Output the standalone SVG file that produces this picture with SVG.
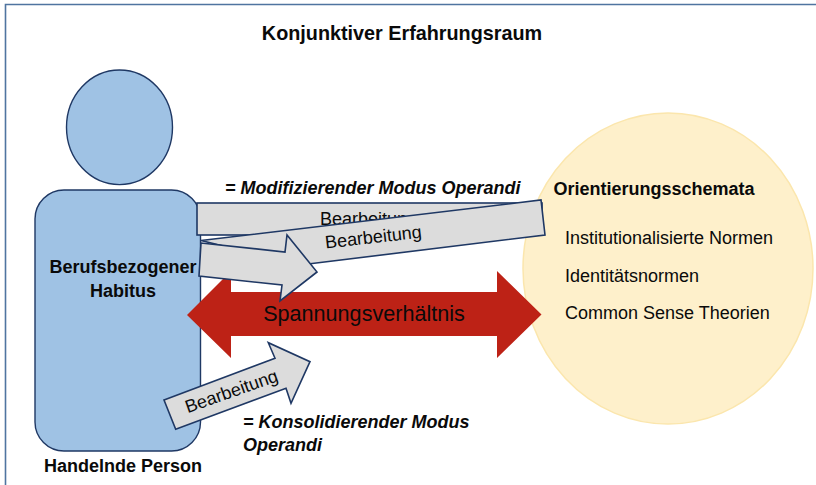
<svg xmlns="http://www.w3.org/2000/svg" width="816" height="485" viewBox="0 0 816 485">
<style>
text{font-family:"Liberation Sans",Arial,sans-serif;fill:#0a0a0a}
.b{font-weight:bold;font-size:18px}
.bi{font-weight:bold;font-style:italic;font-size:18px}
.n{font-size:18px}
.g{fill:#dcdcdc;stroke:#1f3864;stroke-width:1.6;stroke-linejoin:miter}
</style>
<rect width="816" height="485" fill="#fff"/>
<path d="M5.500 485V4.500H816" fill="none" stroke="#4f74a0" stroke-width="1.600"/>
<text class="b" x="402" y="40" text-anchor="middle" style="font-size:19.800px">Konjunktiver Erfahrungsraum</text>
<g id="person-head"><ellipse cx="119.500" cy="127.300" rx="53" ry="57.300" fill="#9fc2e4" stroke="#1f3864" stroke-width="1.400"/></g>
<g id="person-body">
<rect x="35" y="190" width="165.500" height="261" rx="29" fill="#9fc2e4" stroke="#1f3864" stroke-width="1.400"/>
<text class="b" x="123" y="273" text-anchor="middle">Berufsbezogener</text>
<text class="b" x="123" y="297" text-anchor="middle">Habitus</text>
</g>
<text class="b" x="123" y="472" text-anchor="middle">Handelnde Person</text>
<g id="orientierung">
<ellipse cx="668" cy="268.500" rx="145" ry="155.500" fill="#fef0cb" stroke="#fbe6ad" stroke-width="1.500"/>
<text class="b" x="553.500" y="195">Orientierungsschemata</text>
<text class="n" x="565" y="244">Institutionalisierte Normen</text>
<text class="n" x="565" y="282">Identitätsnormen</text>
<text class="n" x="565" y="319">Common Sense Theorien</text>
</g>
<g id="connectors">
<g id="spannung">
<polygon points="187,315 231,271 231,292 497,292 497,271 541.500,314.500 497,358 497,336 231,336 231,358" fill="#bd2216"/>
<text x="364" y="321" text-anchor="middle" style="font-size:21.600px">Spannungsverhältnis</text>
</g>
<g id="bearbeitung-1">
<rect class="g" x="197" y="203" width="345" height="32"/>
<text class="n" x="368.500" y="225" text-anchor="middle">Bearbeitung</text>
</g>
<g id="bearbeitung-2">
<polygon class="g" points="201,240.500 541,200 545,235 300,265"/>
<text class="n" transform="translate(374,243) rotate(-6.500)" text-anchor="middle">Bearbeitung</text>
</g>
<g id="bearbeitung-3">
<polygon class="g" points="201,243 285,252 287,235 317,272 280,301 282,285 199,276"/>
</g>
<g id="bearbeitung-4">
<polygon class="g" points="164,400 275,358.300 268.300,342.700 310,361.700 291,403.300 286,388.300 175.700,429.300"/>
<text class="n" transform="translate(233.500,397) rotate(-19.500)" text-anchor="middle">Bearbeitung</text>
</g>
</g>
<text class="bi" x="225" y="194">= Modifizierender Modus Operandi</text>
<text class="bi" x="243" y="428">= Konsolidierender Modus</text>
<text class="bi" x="243" y="451">Operandi</text>
</svg>
